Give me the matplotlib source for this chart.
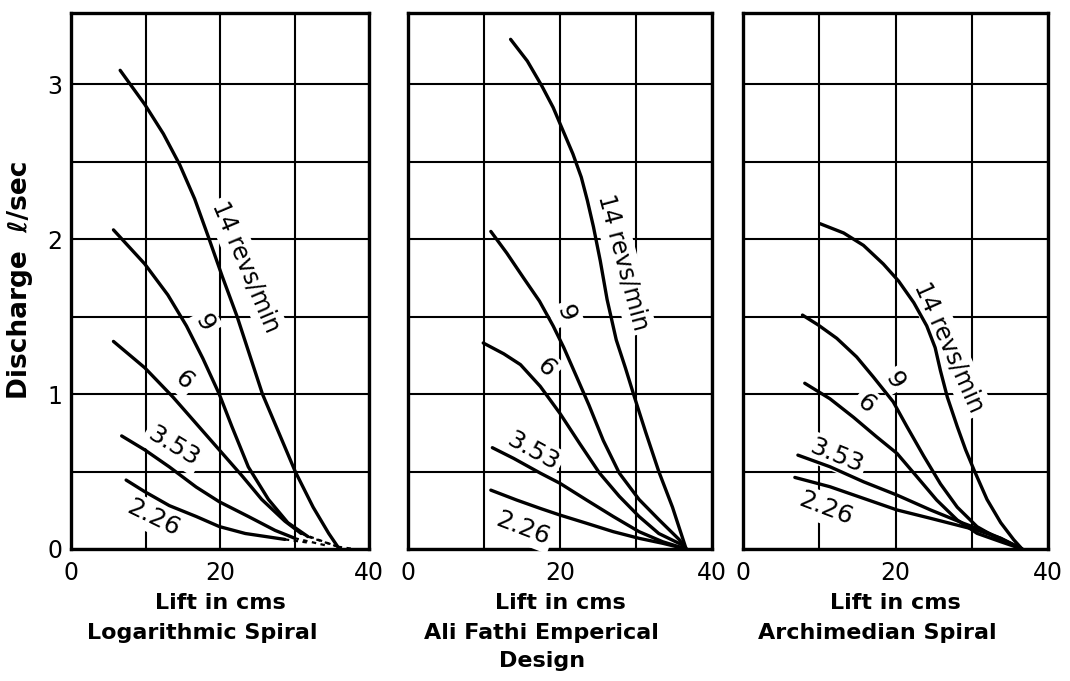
import matplotlib.pyplot as plt
import numpy as np

# discharge (l/sec) against lift (cm) for three screw designs, one curve per speed
speeds = ["14", "9", "6", "3.53", "2.26"]

# Logarithmic spiral
log_x = {
    "14": [6.6, 9.9, 12.4, 14.6, 16.6, 18.4, 20.3, 22.3, 24.0, 25.7, 27.9, 30.1, 32.5, 34.6, 35.8],
    "9": [5.7, 9.9, 13.0, 15.5, 17.7, 19.9, 21.6, 23.8, 26.5, 29.1, 31.8],
    "6": [5.7, 9.9, 13.7, 16.8, 19.9, 23.0, 25.6, 28.7, 30.9],
    "3.53": [6.8, 9.9, 13.2, 16.8, 19.9, 23.8, 27.4, 30.0],
    "2.26": [7.4, 9.9, 13.2, 16.8, 19.9, 23.4, 26.9, 28.7],
}
log_y = {
    "14": [3.09, 2.87, 2.68, 2.48, 2.26, 2.02, 1.76, 1.50, 1.25, 1.00, 0.75, 0.50, 0.27, 0.10, 0.015],
    "9": [2.06, 1.84, 1.64, 1.44, 1.23, 1.00, 0.79, 0.53, 0.32, 0.17, 0.08],
    "6": [1.34, 1.17, 0.98, 0.81, 0.64, 0.47, 0.32, 0.18, 0.10],
    "3.53": [0.73, 0.64, 0.53, 0.40, 0.305, 0.21, 0.12, 0.07],
    "2.26": [0.445, 0.37, 0.28, 0.21, 0.145, 0.10, 0.075, 0.062],
}
# faint dashed run-out of the log spiral curves
log_tail_x = {"14": [35.8, 38.0], "9": [31.8, 35.8], "6": [30.9, 35.5],
              "3.53": [30.0, 34.5], "2.26": [28.7, 32.0]}
log_tail_y = {"14": [0.015, 0.0], "9": [0.08, 0.015], "6": [0.10, 0.02],
              "3.53": [0.07, 0.02], "2.26": [0.062, 0.04]}

# Ali Fathi empirical design
ali_x = {
    "14": [13.5, 15.7, 17.6, 19.1, 20.4, 21.7, 22.8, 23.6, 24.4, 25.3, 26.2,
           27.4, 28.6, 29.8, 31.3, 33.0, 34.8, 36.6],
    "9": [10.9, 13.0, 15.2, 17.3, 19.1, 20.5, 22.2, 23.8, 25.7, 27.8, 30.4, 33.0, 35.7, 36.6],
    "6": [9.9, 12.6, 14.8, 17.4, 20.0, 22.6, 25.2, 27.8, 30.4, 33.0, 36.1, 36.6],
    "3.53": [11.1, 13.9, 17.4, 20.0, 23.5, 27.0, 30.4, 33.5, 36.6],
    "2.26": [10.9, 14.3, 17.4, 20.0, 23.5, 27.0, 30.4, 33.5, 36.6],
}
ali_y = {
    "14": [3.29, 3.15, 2.99, 2.85, 2.70, 2.55, 2.40, 2.25, 2.08, 1.86, 1.61,
           1.35, 1.17, 0.98, 0.75, 0.50, 0.27, 0.0],
    "9": [2.05, 1.91, 1.75, 1.60, 1.44, 1.30, 1.11, 0.93, 0.70, 0.49, 0.32, 0.19, 0.06, 0.0],
    "6": [1.33, 1.26, 1.19, 1.05, 0.875, 0.68, 0.49, 0.34, 0.21, 0.10, 0.026, 0.0],
    "3.53": [0.654, 0.585, 0.49, 0.424, 0.316, 0.21, 0.112, 0.047, 0.0],
    "2.26": [0.38, 0.316, 0.262, 0.219, 0.166, 0.112, 0.069, 0.037, 0.0],
}

# Archimedean spiral
arc_x = {
    "14": [10.1, 13.2, 15.8, 18.4, 20.4, 22.4, 24.1, 25.2, 25.9, 26.8, 28.1, 29.2,
           30.3, 32.0, 33.8, 35.5, 36.6],
    "9": [7.8, 9.9, 12.3, 14.9, 17.1, 19.7, 21.5, 23.7, 25.9, 28.1, 30.7, 33.8, 36.6],
    "6": [8.1, 11.4, 14.5, 17.5, 20.2, 22.8, 25.4, 28.1, 30.7, 33.8, 36.6],
    "3.53": [7.2, 11.4, 15.8, 20.2, 24.6, 28.9, 30.7, 33.8, 36.6],
    "2.26": [6.8, 11.4, 15.8, 20.2, 24.6, 28.9, 30.7, 33.8, 36.6],
}
arc_y = {
    "14": [2.10, 2.04, 1.96, 1.84, 1.73, 1.59, 1.44, 1.30, 1.15, 0.98, 0.79, 0.64,
           0.51, 0.32, 0.17, 0.06, 0.0],
    "9": [1.51, 1.445, 1.36, 1.24, 1.11, 0.95, 0.79, 0.60, 0.42, 0.27, 0.144, 0.058, 0.0],
    "6": [1.07, 0.97, 0.85, 0.725, 0.617, 0.467, 0.316, 0.187, 0.101, 0.047, 0.0],
    "3.53": [0.606, 0.531, 0.434, 0.348, 0.252, 0.166, 0.133, 0.069, 0.0],
    "2.26": [0.462, 0.402, 0.327, 0.252, 0.198, 0.144, 0.122, 0.069, 0.0],
}

titles = [["Logarithmic Spiral"], ["Ali Fathi Emperical", "Design"], ["Archimedian Spiral"]]

# label text, position, rotation for each curve
log_labels = [("14 revs/min", 23.5, 1.82, -67), ("9", 17.9, 1.46, -62), ("6", 15.2, 1.09, -42),
              ("3.53", 13.7, 0.66, -31), ("2.26", 11.1, 0.20, -26)]
ali_labels = [("14 revs/min", 28.3, 1.85, -75), ("9", 20.7, 1.52, -70), ("6", 18.2, 1.17, -45),
              ("3.53", 16.4, 0.63, -29), ("2.26", 15.1, 0.135, -21)]
arc_labels = [("14 revs/min", 27.1, 1.30, -66), ("9", 19.9, 1.09, -60), ("6", 16.1, 0.94, -40),
              ("3.53", 12.2, 0.60, -22), ("2.26", 10.8, 0.26, -21)]

fig = plt.figure(figsize=(10.7, 6.81), dpi=100)
W, H = 1070, 681
boxes = [(71, 369), (408, 712), (743, 1048)]
top_px, bot_px = 13, 549

panels = [(log_x, log_y, log_labels), (ali_x, ali_y, ali_labels), (arc_x, arc_y, arc_labels)]

for i, (l, r) in enumerate(boxes):
    ax = fig.add_axes([l / W, 1 - bot_px / H, (r - l) / W, (bot_px - top_px) / H])
    px, py, labs = panels[i]
    for s in speeds:
        ax.plot(px[s], py[s], color="black", lw=2.4, solid_capstyle="round",
                solid_joinstyle="round", zorder=4)
    if i == 0:
        for s in speeds:
            ax.plot(log_tail_x[s], log_tail_y[s], color="black", lw=1.6, ls=(0, (2, 2)), zorder=4)
    for txt, x, y, rot in labs:
        fs = 17 if txt.startswith("14") else 18
        ax.text(x, y, txt, rotation=rot, ha="center", va="center", fontsize=fs,
                rotation_mode="anchor", zorder=3,
                bbox=dict(fc="white", ec="none", pad=2.5))

    ax.set_xlim(0, 40)
    ax.set_ylim(0, 3.46)
    ax.set_xticks([0, 20, 40])
    ax.set_xticks([10, 30], minor=True)
    ax.set_yticks([0, 1, 2, 3])
    ax.set_yticks([0.5, 1.5, 2.5], minor=True)
    ax.grid(True, which="both", color="black", lw=1.5)
    ax.set_axisbelow(True)
    ax.tick_params(which="both", length=0, labelsize=17)
    ax.tick_params(axis="x", pad=9)
    ax.tick_params(axis="y", pad=6)
    if i > 0:
        ax.set_yticklabels([])
    for sp in ax.spines.values():
        sp.set_linewidth(2.4)

    ax.text(0.5, -0.10, "Lift in cms", transform=ax.transAxes, ha="center", va="center",
            fontsize=16, fontweight="bold")
    for k, line in enumerate(titles[i]):
        ax.text(0.44, -0.157 - 0.052 * k, line, transform=ax.transAxes, ha="center",
                va="center", fontsize=16, fontweight="bold")

fig.text(20 / W, 1 - 280 / H, "Discharge  \u2113/sec", rotation=90, ha="center", va="center",
         fontsize=19, fontweight="bold")

fig.savefig("out.png", dpi=100)
